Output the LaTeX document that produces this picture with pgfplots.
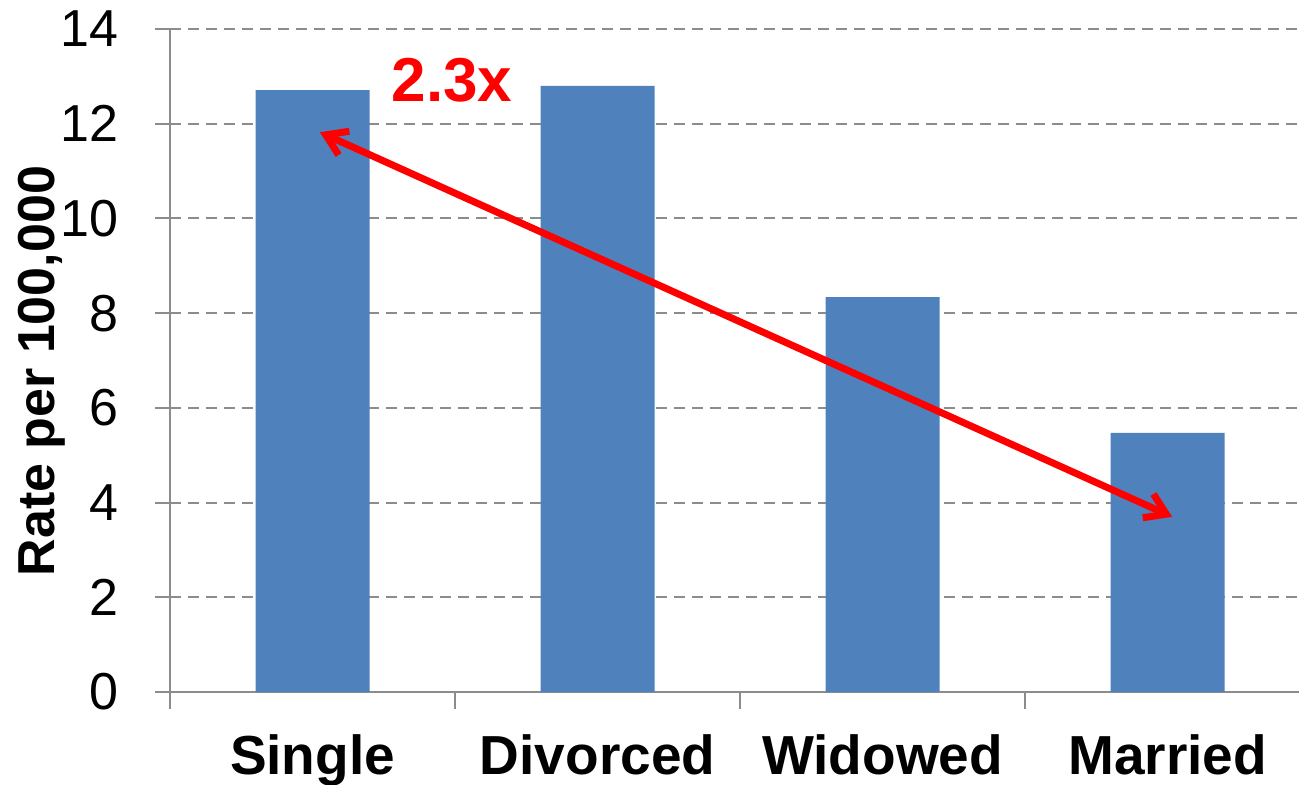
\documentclass[border=0pt]{standalone}
\usepackage{pgfplots}
\pgfplotsset{compat=1.18}
\usepackage{fontspec}
\setmainfont{Liberation Sans}
\usetikzlibrary{arrows.meta}
\definecolor{barblue}{HTML}{4F81BD}
\definecolor{axgray}{HTML}{8C8C8C}
\begin{document}
\begin{tikzpicture}
\useasboundingbox (-85pt,-46pt) rectangle (564.5pt,346pt);
\begin{axis}[
  scale only axis,
  width=564.5pt, height=331.5pt,
  xmin=-0.5, xmax=3.461,
  ymin=0, ymax=14,
  ytick={0,2,...,14},
  xtick={0,1,2,3},
  xticklabels={Single,Divorced,Widowed,Married},
  minor xtick={-0.5,0.5,1.5,2.5},
  axis x line*=bottom,
  axis y line*=left,
  axis line style={axgray, line width=1pt},
  every tick/.style={axgray, line width=1pt},
  major tick length=7.5pt,
  minor tick length=8.5pt,
  tick align=outside,
  every major x tick/.append style={draw=none},
  every minor x tick/.append style={axgray, line width=1pt},
  ymajorgrids,
  grid style={axgray, line width=1pt, dash pattern=on 5.5pt off 3.5pt},
  /pgf/number format/assume math mode=true,
  tick label style={font=\fontsize{26}{30}\selectfont},
  yticklabel style={xshift=-15pt},
  xticklabel style={font=\fontsize{27.5}{32}\selectfont\bfseries, yshift=-10.5pt},
  ylabel={Rate per 100,000},
  ylabel style={font=\fontsize{26}{30}\selectfont\bfseries, at={(axis description cs:-0.1135,0.484)}, anchor=center, rotate=0},
  clip=false,
]
\addplot[ybar, bar width=0.4, fill=barblue, draw=none] coordinates {(0,12.71) (1,12.8) (2,8.34) (3,5.47)};
\draw[red, line width=3.5pt, {Straight Barb[length=10pt,width=13pt]}-{Straight Barb[length=10pt,width=13pt]}] (axis cs:0.026,11.82) -- (axis cs:3.016,3.70);
\node[text=red, font=\fontsize{31}{36}\selectfont\bfseries] at (axis cs:0.489,12.92) {2.3x};
\end{axis}
\end{tikzpicture}
\end{document}
